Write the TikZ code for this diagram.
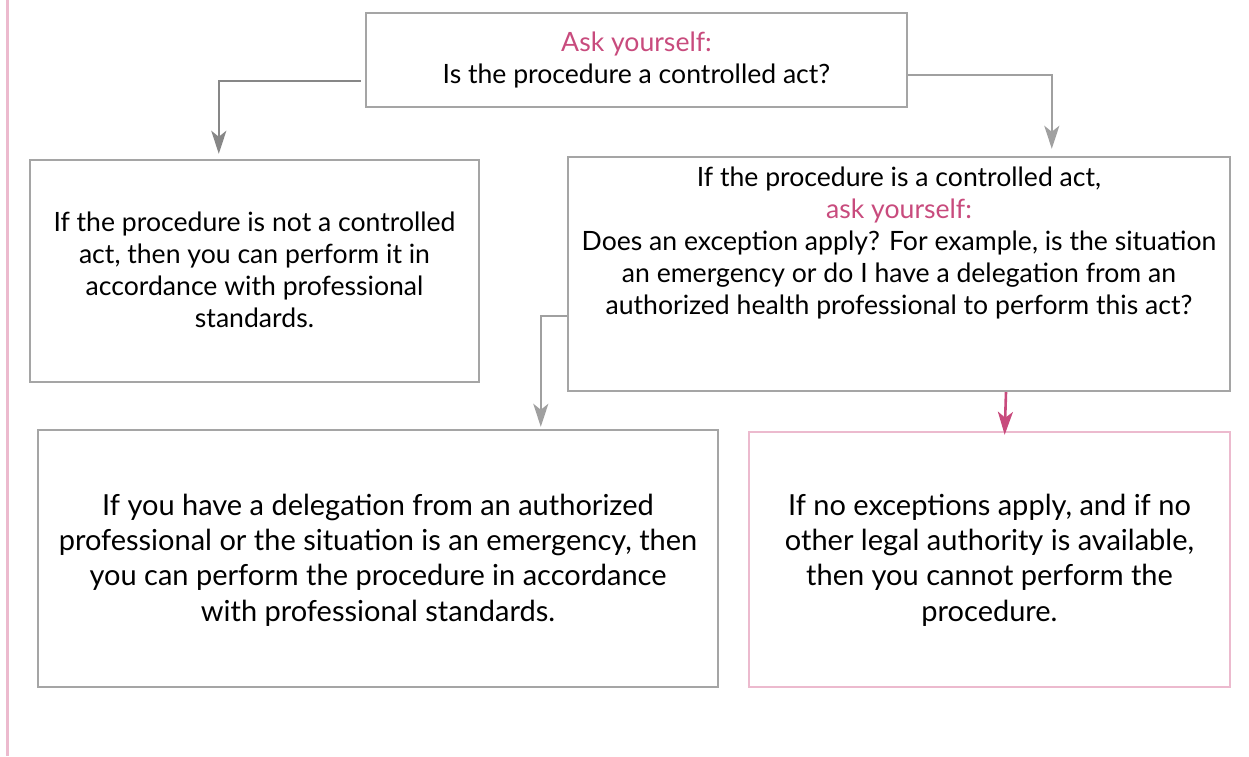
\documentclass[tikz,border=0pt]{standalone}
\usepackage{fontspec}
\setmainfont{Lato}
\usetikzlibrary{arrows.meta,calc}
\definecolor{boxgray}{RGB}{165,165,165}
\definecolor{arrgray}{RGB}{135,135,135}
\definecolor{arrgrayl}{RGB}{160,160,160}
\definecolor{pinktext}{RGB}{200,75,125}
\definecolor{pinkline}{RGB}{236,186,206}
\tikzset{
  box/.style={draw=boxgray, line width=1.2pt, inner sep=0pt},
  txt/.style={align=center, font=\fontsize{13.3}{16}\selectfont, text=black, inner sep=0pt},
  bigtxt/.style={align=center, font=\fontsize{14.5}{17.6}\selectfont, text=black, inner sep=0pt},
  conn/.style={line width=1.3pt, -{Stealth[length=11.5pt,width=7.5pt,inset=3pt]}},
}
\begin{document}
\begin{tikzpicture}[x=0.5pt,y=-0.5pt]
\useasboundingbox (0,0) rectangle (1249,756);
\draw[pinkline, line width=1.2pt] (7.5,0) coordinate (pl1) -- (7.5,756) coordinate (pl2);
% boxes
\node[box, minimum width=270.5pt, minimum height=47pt] (top) at (636.5,60) {};
\node[txt] (toptxt) at (636.5,60) {\textcolor{pinktext}{Ask yourself:}\\Is the procedure a controlled act?};
\node[box, minimum width=224.5pt, minimum height=111pt] (lm) at (254.5,271) {};
\node[txt] (lmtxt) at (254.5,270) {If the procedure is not a controlled\\act, then you can perform it in\\accordance with professional\\standards.};
\node[box, minimum width=331pt, minimum height=117pt] (rm) at (899,274) {};
\node[txt, anchor=north] (rmtxt) at (899,167) {If the procedure is a controlled act,\\\textcolor{pinktext}{ask yourself:}\\Does an exception apply? For example, is the situation\\an emergency or do I have a delegation from an\\authorized health professional to perform this act?};
\node[box, minimum width=340pt, minimum height=128.5pt] (bl) at (378,558.5) {};
\node[bigtxt] (bltxt) at (378,560) {If you have a delegation from an authorized\\professional or the situation is an emergency, then\\you can perform the procedure in accordance\\with professional standards.};
\node[box, draw=pinkline, minimum width=240.5pt, minimum height=127.5pt] (br) at (989.5,559.5) {};
\node[bigtxt] (brtxt) at (989.5,560) {If no exceptions apply, and if no\\other legal authority is available,\\then you cannot perform the\\procedure.};
% connectors
\draw[conn, arrgray, shorten >=2.5pt] ([xshift=-2pt]top.west |- 0,81) -| ($(lm.north west)+(190,0)$);
\draw[conn, arrgrayl, shorten >=3.5pt] (top.east |- 0,75) -| ($(rm.north west)+(485,0)$);
\draw[conn, arrgrayl, shorten >=1pt] (rm.west |- 0,316) -| ($(bl.north west)+(504,0)$);
\draw[conn, pinktext, shorten >=-2pt] (rm.south -| 1006,0) -- ($(br.north west)+(257,0)$);
\end{tikzpicture}
\end{document}
